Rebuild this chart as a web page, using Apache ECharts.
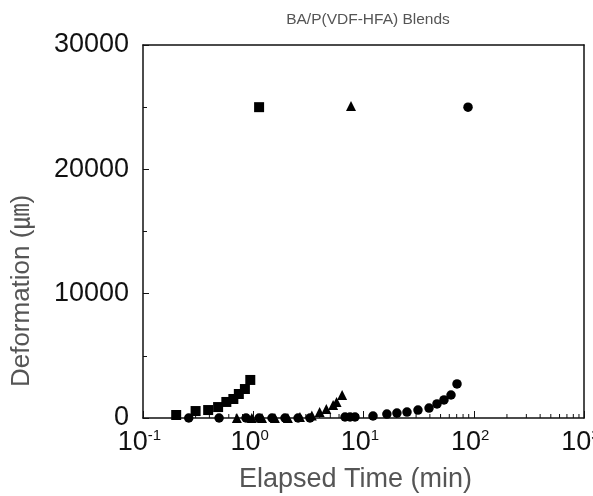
<!DOCTYPE html>
<html>
<head>
<meta charset="utf-8">
<script src="https://cdn.jsdelivr.net/npm/echarts@6/dist/echarts.min.js"></script>
<style>
html,body{margin:0;padding:0;background:#fff;}
#c{width:593px;height:496px;}
</style>
</head>
<body>
<div id="c"></div>
<script>
// Data
const squareX = [0.20, 0.30, 0.39, 0.48, 0.57, 0.66, 0.74, 0.84, 0.94, 1.13];
const squareY = [240, 560, 640, 880, 1290, 1530, 1930, 2330, 3060, 25000];
const triX = [0.71, 0.97, 1.2, 1.57, 2.06, 2.65, 3.4, 4.0, 4.6, 5.3, 5.7, 6.4, 7.7];
const triY = [0, 0, 0, 0, 0, 80, 200, 480, 720, 1050, 1290, 1850, 25100];
const circX = [0.26, 0.49, 0.86, 1.13, 1.48, 1.94, 2.55, 3.27, 6.8, 7.55, 8.37, 12.2, 16.3, 20.1, 24.8, 31.2, 39.3, 46.4, 53.7, 62.2, 70.5, 88.7];
const circY = [0, 0, 0, 0, 0, 0, 0, 0, 80, 80, 80, 160, 320, 400, 480, 640, 800, 1130, 1450, 1850, 2740, 25000];
const minorTickX = [];
[0.1, 1, 10, 100].forEach(d => { for (let k = 2; k <= 9; k++) minorTickX.push(+(d * k).toPrecision(3)); });

const pair = (xs, ys) => xs.map((x, i) => [x, ys[i]]);
const chart = echarts.init(document.getElementById('c'), null, {renderer: 'canvas'});
const axisColor = '#111';
chart.setOption({
  animation: false,
  backgroundColor: '#fff',
  title: {
    text: 'BA/P(VDF-HFA) Blends',
    left: 363, textAlign: 'center', top: 7,
    textStyle: {fontFamily: 'Liberation Sans', fontSize: 15.5, fontWeight: 'normal', color: '#555'}
  },
  graphic: [{
    type: 'text', x: 22, y: 291, rotation: Math.PI / 2,
    style: {text: 'Deformation (㎛)', align: 'center', verticalAlign: 'middle',
            fontFamily: 'Liberation Sans, Noto Sans CJK KR', fontSize: 26, fill: '#555'}
  }],
  grid: {left: 143, right: 9, top: 45, bottom: 78, outerBoundsMode: 'none', containLabel: false},
  xAxis: [{
    type: 'log', logBase: 10, min: 0.1, max: 1000,
    name: 'Elapsed Time (min)', nameLocation: 'middle', nameGap: 48,
    nameTextStyle: {fontFamily: 'Liberation Sans', fontSize: 27, color: '#555', padding: [0, 16, 0, 0]},
    axisLine: {onZero: false, lineStyle: {color: axisColor, width: 1.5}},
    axisTick: {inside: true, length: 7, lineStyle: {color: axisColor}},
    splitLine: {show: false},
    axisLabel: {
      margin: 10, padding: [0, 7, 0, 0],
      formatter: v => '{b|10}{s|' + Math.round(Math.log10(v)) + '}',
      rich: {
        b: {fontFamily: 'Liberation Sans', fontSize: 27, color: '#111', lineHeight: 30},
        s: {fontFamily: 'Liberation Sans', fontSize: 15, color: '#111', verticalAlign: 'top', lineHeight: 30, padding: [0, 0, 12, 0]}
      }
    }
  }, {
    type: 'log', logBase: 10, min: 0.1, max: 1000, position: 'top',
    axisLine: {onZero: false, lineStyle: {color: axisColor, width: 1.5}},
    axisTick: {show: false}, axisLabel: {show: false}, splitLine: {show: false}
  }],
  yAxis: [{
    type: 'value', min: 0, max: 30000, interval: 10000,
    axisLine: {show: true, onZero: false, lineStyle: {color: axisColor, width: 1.5}},
    axisTick: {inside: true, length: 6, lineStyle: {color: axisColor}},
    minorTick: {show: true, splitNumber: 2, length: 4, lineStyle: {color: axisColor}},
    splitLine: {show: false},
    axisLabel: {margin: 14, fontFamily: 'Liberation Sans', fontSize: 27, color: '#111', formatter: v => String(v)}
  }, {
    type: 'value', min: 0, max: 30000, interval: 10000, position: 'right',
    axisLine: {show: true, onZero: false, lineStyle: {color: axisColor, width: 1.5}},
    axisTick: {show: false}, axisLabel: {show: false}, splitLine: {show: false}
  }],
  series: [
    {
      type: 'custom', xAxisIndex: 0, yAxisIndex: 0, silent: true,
      data: minorTickX.map(x => [x, 0]),
      renderItem: (params, api) => {
        const p = api.coord([api.value(0), 0]);
        return {type: 'line', shape: {x1: p[0], y1: p[1], x2: p[0], y2: p[1] - 4},
                style: {stroke: axisColor, lineWidth: 1}};
      }
    },
    {type: 'scatter', symbol: 'rect', symbolSize: 10, itemStyle: {color: '#000', opacity: 1}, data: pair(squareX, squareY)},
    {type: 'scatter', symbol: 'triangle', symbolSize: 10, itemStyle: {color: '#000', opacity: 1}, data: pair(triX, triY)},
    {type: 'scatter', symbol: 'circle', symbolSize: 9.5, itemStyle: {color: '#000', opacity: 1}, data: pair(circX, circY)}
  ]
});
</script>
</body>
</html>
